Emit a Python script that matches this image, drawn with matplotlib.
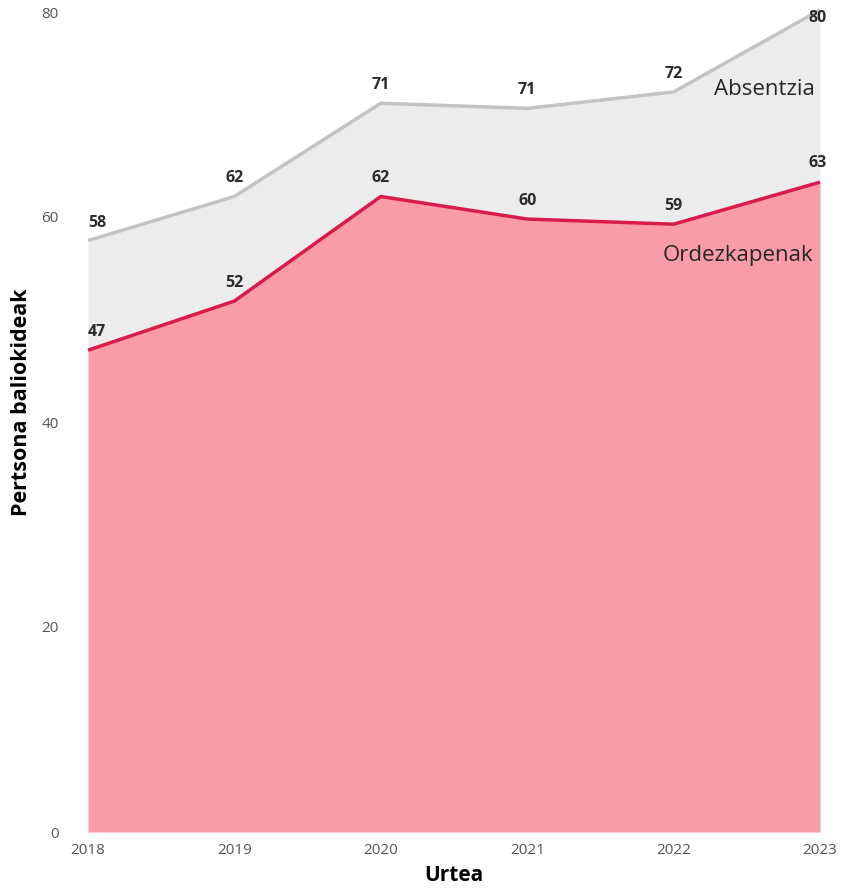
import numpy as np
import matplotlib
matplotlib.use("Agg")
import matplotlib.pyplot as plt

plt.rcParams['font.family'] = ['Open Sans', 'DejaVu Sans']

years = [2018, 2019, 2020, 2021, 2022, 2023]
absentzia = [57.7, 62.0, 71.1, 70.6, 72.2, 80.2]
ordezkapenak = [47.0, 51.8, 62.0, 59.8, 59.3, 63.4]
abs_labels = ["58", "62", "71", "71", "72", "80"]
ord_labels = ["47", "52", "62", "60", "59", "63"]

fig = plt.figure(figsize=(8.42, 8.92), dpi=100)
ax = fig.add_axes([88 / 842, 60 / 892, 732 / 842, 820 / 892])

# areas
ax.fill_between(years, ordezkapenak, absentzia, color="#ececec", lw=0)
ax.fill_between(years, 0, ordezkapenak, color="#f99ca7", lw=0)
ax.plot(years, absentzia, color="#c3c3c3", lw=2.5, solid_capstyle="butt", clip_on=False)
ax.plot(years, ordezkapenak, color="#d81b4b", lw=2.5, solid_capstyle="butt", clip_on=False)

# data labels
lbl = dict(ha="center", fontsize=11.5, fontweight="bold", color="#2b2b2b",
           textcoords="offset points", annotation_clip=False)
n = len(years)
for i in range(n):
    x = years[i]
    dx = 0.06 if i == 0 else 0
    if i == n - 1:
        ax.annotate(abs_labels[i], (x, absentzia[i]), xytext=(-2, -6), va="center", **lbl)
        ax.annotate(ord_labels[i], (x, ordezkapenak[i]), xytext=(-2, 14), va="center", **lbl)
    else:
        ax.annotate(abs_labels[i], (x + dx, absentzia[i]), xytext=(0, 13), va="center", **lbl)
        ax.annotate(ord_labels[i], (x + dx, ordezkapenak[i]), xytext=(0, 13), va="center", **lbl)

# series names
ax.text(2022.62, 72.4, "Absentzia", ha="center", va="center", fontsize=16, color="#252525")
ax.text(2022.44, 56.2, "Ordezkapenak", ha="center", va="center", fontsize=16, color="#252525")

ax.set_xlim(2018, 2023)
ax.set_ylim(0, 80)
ax.set_yticks([0, 20, 40, 60, 80])
ax.set_xticks(years)
ax.tick_params(length=0, labelsize=11, labelcolor="#555555")
ax.tick_params(axis="y", pad=21)
ax.tick_params(axis="x", pad=8)
for s in ax.spines.values():
    s.set_visible(False)

ax.set_xlabel("Urtea", fontsize=15, fontweight="bold", color="black", labelpad=5)
fig.text(22 / 842, 1 - 402 / 892, "Pertsona baliokideak", rotation=90, ha="center", va="center",
         fontsize=15.5, fontweight="bold", color="black")

fig.savefig("out.png", dpi=100)
